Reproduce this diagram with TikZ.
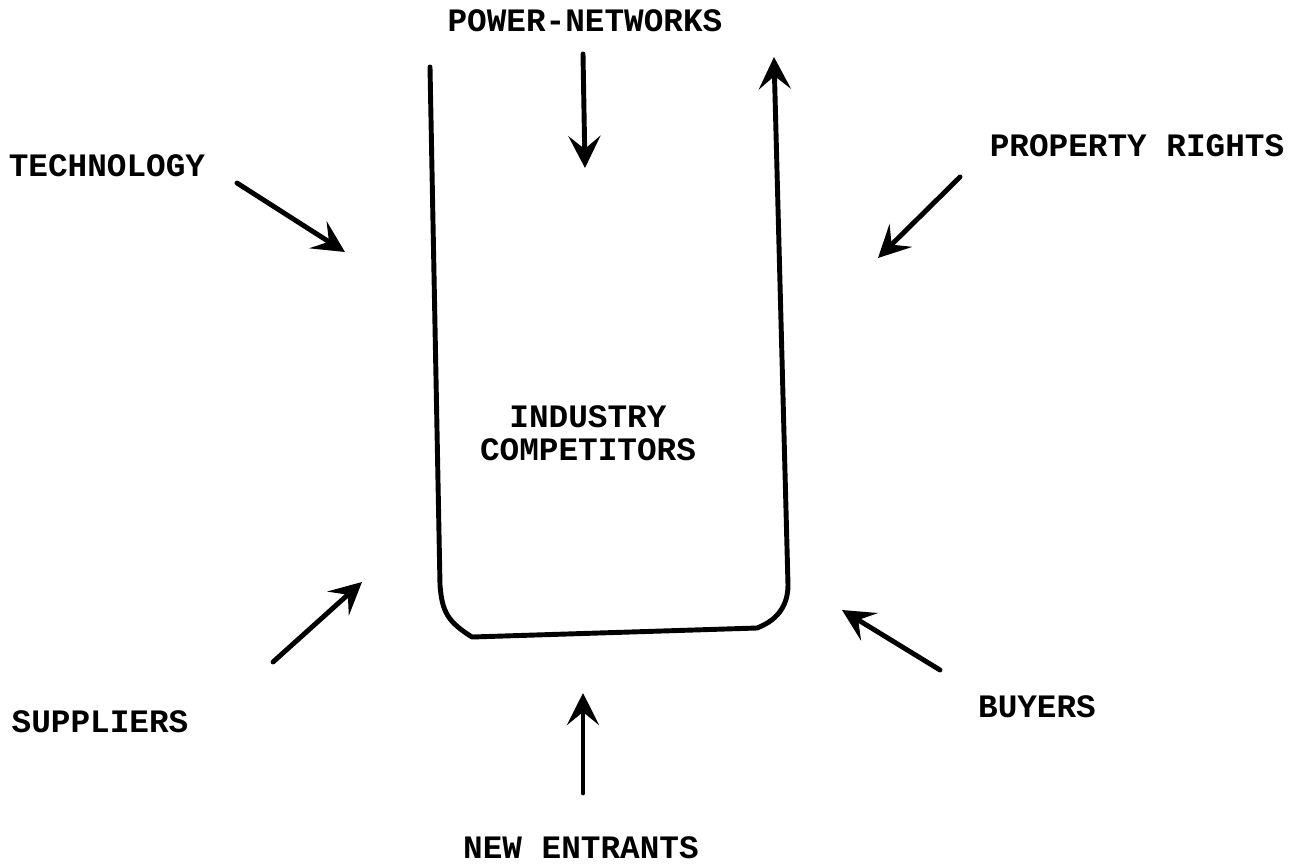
\documentclass[tikz,border=0pt]{standalone}
\usepackage{fontspec}
\newfontfamily\tw{Liberation Mono}
\usetikzlibrary{arrows.meta}
\tikzset{
  lbl/.style={font=\tw\bfseries\fontsize{9.3}{9.4}\selectfont, inner sep=0pt, align=center},
  force/.style={line width=1.4pt, line cap=round, -{Stealth[length=3.2mm,width=3.2mm,inset=1.3mm]}},
  wall/.style={line width=1.4pt, line cap=round, line join=round}
}
\begin{document}
\begin{tikzpicture}[x=0.01cm,y=-0.01cm]
\useasboundingbox (0,0) rectangle (1299,866);
% labels
\node[lbl] (pn) at (585,21) {POWER-NETWORKS};
\node[lbl] (tech) at (107,166) {TECHNOLOGY};
\node[lbl] (prop) at (1137,146) {PROPERTY RIGHTS};
\node[lbl] (ind) at (588,433) {INDUSTRY\\COMPETITORS};
\node[lbl] (sup) at (100,722) {SUPPLIERS};
\node[lbl] (buy) at (1037,707) {BUYERS};
\node[lbl] (ne) at (581,848) {NEW ENTRANTS};
% the industry vessel
\coordinate (ul) at (430,67);
\coordinate (ur) at (774,57);
\draw[wall, -{Stealth[length=3.2mm,width=3.2mm,inset=1.3mm]}]
  (ul) -- (440,585) .. controls (442,612) and (448,622) .. (472,637)
  -- (757,628) .. controls (778,620) and (788,605) .. (788,585) -- (ur);
% force arrows
\coordinate (pnA) at (583,54);  \coordinate (pnB) at (585,168);
\coordinate (teA) at (237,183); \coordinate (teB) at (345,252);
\coordinate (prA) at (960,177); \coordinate (prB) at (878,258);
\coordinate (suA) at (273,662); \coordinate (suB) at (362,582);
\coordinate (buA) at (940,670); \coordinate (buB) at (842,610);
\coordinate (neA) at (583,793); \coordinate (neB) at (583,693);
\draw[force] (pnA) -- (pnB);
\draw[force] (teA) -- (teB);
\draw[force] (prA) -- (prB);
\draw[force] (suA) -- (suB);
\draw[force] (buA) -- (buB);
\draw[force] (neA) -- (neB);
\end{tikzpicture}
\end{document}
